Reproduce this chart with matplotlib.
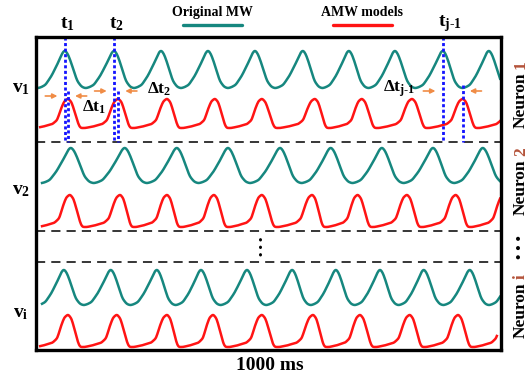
import numpy as np
import matplotlib
matplotlib.use('agg')
from matplotlib import pyplot as plt

plt.rcParams['font.family'] = 'Liberation Serif'
plt.rcParams['font.weight'] = 'bold'
plt.rcParams['mathtext.fontset'] = 'custom'
plt.rcParams['mathtext.rm'] = 'Liberation Serif:bold'
plt.rcParams['mathtext.it'] = 'Liberation Serif:bold'
plt.rcParams['mathtext.bf'] = 'Liberation Serif:bold'

# peak times (ms), one list per trace
green_peaks_1 = [62, 168, 269, 370, 471, 574, 673, 772, 875, 974]
red_peaks_1 = [69, 177, 282, 385, 486, 600, 701, 809, 918]
green_peaks_2 = [75, 191, 303, 413, 525, 634, 744, 854, 961]
red_peaks_2 = [73, 181, 282, 383, 486, 594, 692, 798, 903]
green_peaks_i = [60, 161, 260, 355, 454, 551, 645, 740, 834, 933]
red_peaks_i = [69, 174, 282, 381, 486, 596, 697, 804, 908]

# one cycle of each waveform, peak to peak (phase 0..1, level 0..1)
green_phase = [0, 0.06, 0.12, 0.25, 0.34, 0.42, 0.5, 0.59, 0.72, 0.85, 0.95]
green_level = [1, 0.9, 0.7, 0.19, 0.04, 0, 0.03, 0.09, 0.33, 0.65, 0.93]
red_phase = [0, 0.07, 0.14, 0.21, 0.25, 0.34, 0.5, 0.6, 0.68, 0.78, 0.85, 0.92]
red_level = [1, 0.87, 0.5, 0.1, 0, 0.0, 0.05, 0.1, 0.13, 0.27, 0.62, 0.9]

row_names = ['1', '2', 'i']
legend_labels = ['Original MW', 'AMW models']

TEAL = '#16877f'
RED = '#ff1414'
BLUE = '#1414ff'
ORANGE = '#f08c46'
BROWN = '#b4533a'


def cycle(phase, level, sigma):
    grid = np.linspace(0, 1, 600, endpoint=False)
    v = np.interp(grid, phase, level, period=1)
    n = int(sigma * 600 * 4)
    x = np.arange(-n, n + 1)
    k = np.exp(-0.5 * (x / (sigma * 600)) ** 2)
    k /= k.sum()
    vv = np.concatenate([v[-n:], v, v[:n]])
    v = np.convolve(vv, k, 'same')[n:-n]
    v = (v - v.min()) / (v.max() - v.min())
    return grid, v


def wave(t, peaks, grid, shape):
    p = np.asarray(peaks, float)
    per = np.mean(np.diff(p))
    p = np.concatenate([[p[0] - per], p, [p[-1] + per]])
    k = np.clip(np.searchsorted(p, t) - 1, 0, len(p) - 2)
    ph = (t - p[k]) / (p[k + 1] - p[k])
    return np.interp(ph, grid, shape, period=1)


g_grid, g_shape = cycle(green_phase, green_level, 0.022)
r_grid, r_shape = cycle(red_phase, red_level, 0.018)

fig = plt.figure(figsize=(5.31, 3.77), dpi=100)
ax = fig.add_axes([36 / 531, 27 / 377, 465 / 531, 313 / 377])
ax.set_xlim(0, 1000)
ax.set_ylim(350, 37)
ax.set_xticks([])
ax.set_yticks([])
for s in ax.spines.values():
    s.set_linewidth(2.4)

# (green peaks, red peaks, green top/bottom, red top/bottom, start, ends)
rows = [
    (green_peaks_1, red_peaks_1, 51, 88, 99, 128, (0, 998), (9, 998)),
    (green_peaks_2, red_peaks_2, 148, 183, 195, 227, (13, 998), (13, 998)),
    (green_peaks_i, red_peaks_i, 270, 305, 315, 347, (13, 998), (9, 991)),
]
for gp, rp, gt, gb, rt, rb, gr, rr in rows:
    t = np.linspace(gr[0], gr[1], 800)
    ax.plot(t, gb - (gb - gt) * wave(t, gp, g_grid, g_shape), color=TEAL, lw=1.8)
    t = np.linspace(rr[0], rr[1], 800)
    ax.plot(t, rb - (rb - rt) * wave(t, rp, r_grid, r_shape), color=RED, lw=1.8)

for y in [141.5, 231, 262]:
    ax.axhline(y, color='black', lw=1.1, dashes=(6, 4))

# ellipsis between neuron 2 and neuron i
ax.text(488, 246, '• • •', rotation=90, ha='center', va='center', fontsize=9)

# timing markers on neuron 1
pairs = [(green_peaks_1[0], red_peaks_1[0], r'$t_1$', r'$\Delta t_1$', 96, (82, 107)),
         (green_peaks_1[1], red_peaks_1[1], r'$t_2$', r'$\Delta t_2$', 91, (147, 89)),
         (green_peaks_1[8], red_peaks_1[8], '$t_{j\u20101}$', '$\\Delta t_{j\u20101}$', 91, (383, 89))]
for k, (tg, tr, lab, dlab, ya, (dx, dy)) in enumerate(pairs):
    ax.plot([tg, tg], [37, 141.5], color=BLUE, lw=2.0, dashes=(1.1, 0.9))
    top = 85 if k == 2 else 91
    ax.plot([tr, tr], [top, 141.5], color=BLUE, lw=2.0, dashes=(1.1, 0.9))
    ax.text(tg - 10, 24, lab, fontsize=14, ha='left', va='center')
    ax.annotate('', xy=(tg - 10, ya), xytext=(tg - 48, ya),
                arrowprops=dict(arrowstyle='-|>', color=ORANGE, lw=1.2, mutation_scale=7))
    ax.annotate('', xy=(tr + 9, ya), xytext=(tr + 46, ya),
                arrowprops=dict(arrowstyle='-|>', color=ORANGE, lw=1.2, mutation_scale=7))
    ax.text((dx - 36) * 1000 / 465, dy, dlab, fontsize=12.5, ha='left', va='center')

# legend above the frame
for lab, col, xc in zip(legend_labels, [TEAL, RED], [380, 702]):
    ax.text(xc, 12, lab, fontsize=10, ha='center', va='center')
    ax.plot([xc - 63, xc + 63], [25, 25], color=col, lw=2.4, clip_on=False,
            solid_capstyle='round')

# v labels at the left
for name, y in zip(row_names, [88, 190, 313]):
    ax.text(-33, y, '$v_{%s}$' % name, fontsize=14, ha='center', va='center')

ax.text(503, 365, '1000 ms', fontsize=14, ha='center', va='center')

# neuron labels at the right, number in brown
fig.canvas.draw()
ren = fig.canvas.get_renderer()
for name, yb in zip(row_names, [128, 215, 338]):
    t = ax.text(1043, yb, 'Neuron', rotation=90, ha='center', va='bottom',
                fontsize=12.5)
    bb = t.get_window_extent(ren)
    xf, yf = fig.transFigure.inverted().transform((0.5 * (bb.x0 + bb.x1), bb.y1 + 4))
    fig.text(xf, yf, name, rotation=90, ha='center', va='bottom', fontsize=12.5,
             color=BROWN)
ax.text(1043, 247, '• • •', rotation=90, ha='center', va='center', fontsize=11)

fig.savefig('out.png', dpi=100)
